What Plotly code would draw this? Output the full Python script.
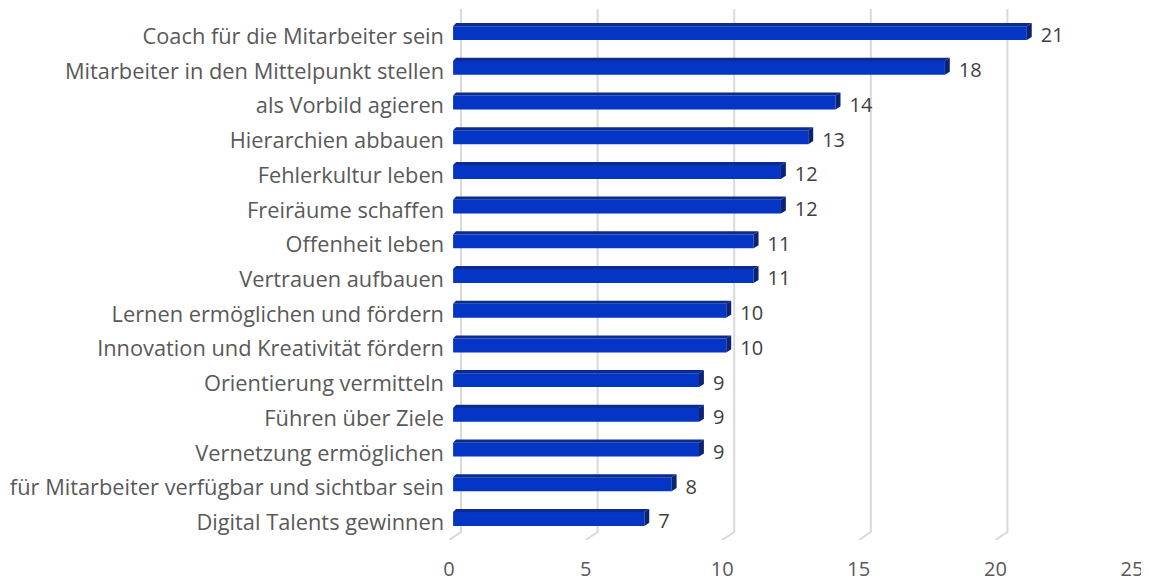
import plotly.graph_objects as go

categories = [
    "Coach für die Mitarbeiter sein",
    "Mitarbeiter in den Mittelpunkt stellen",
    "als Vorbild agieren",
    "Hierarchien abbauen",
    "Fehlerkultur leben",
    "Freiräume schaffen",
    "Offenheit leben",
    "Vertrauen aufbauen",
    "Lernen ermöglichen und fördern",
    "Innovation und Kreativität fördern",
    "Orientierung vermitteln",
    "Führen über Ziele",
    "Vernetzung ermöglichen",
    "für Mitarbeiter verfügbar und sichtbar sein",
    "Digital Talents gewinnen",
]
values = [21, 18, 14, 13, 12, 12, 11, 11, 10, 10, 9, 9, 9, 8, 7]
x_ticks = [0, 5, 10, 15, 20, 25]

# geometry (in axis units)
n = len(categories)
ypos = [n - 1 - i for i in range(n)]  # top category at highest position
label_drop = 0.14
shift = 0.15      # bars sit slightly into the depth
h_front = 0.40
h_top = 0.09
dx = 0.18
grid_dx = 0.44
y_front_bottom = -0.65
y_back_bottom = -0.42
y_top = 14.65

FRONT = "#0535C4"
TOP = "#0B2C8E"
SIDE = "#0A2373"
GRID = "#D9D9D9"
TEXT = "#595959"

fig = go.Figure()

# 3D-perspective gridlines (drawn first -> behind bars)
gx, gy = [], []
for t in x_ticks:
    gx += [t, t + grid_dx, t + grid_dx, None]
    gy += [y_front_bottom, y_back_bottom, y_top, None]
fig.add_trace(go.Scatter(x=gx, y=gy, mode="lines", line=dict(color=GRID, width=2),
                         hoverinfo="skip", cliponaxis=False, showlegend=False))

fx, fy = [], []
tx, ty = [], []
sx, sy = [], []
for v, c in zip(values, ypos):
    yb = c - (h_front + h_top) / 2
    yf = yb + h_front
    x0 = shift
    x1 = v + shift
    fx += [x0, x1, x1, x0, x0, None]
    fy += [yb, yb, yf, yf, yb, None]
    tx += [x0, x1, x1 + dx, x0 + dx * 0.6, x0, None]
    ty += [yf, yf, yf + h_top, yf + h_top, yf, None]
    sx += [x1, x1 + dx, x1 + dx, x1, x1, None]
    sy += [yb, yb + h_top, yf + h_top, yf, yb, None]

fig.add_trace(go.Scatter(x=fx, y=fy, mode="lines", fill="toself", fillcolor=FRONT,
                         line=dict(width=0, color=FRONT), hoverinfo="skip", showlegend=False,
                         cliponaxis=False))
fig.add_trace(go.Scatter(x=tx, y=ty, mode="lines", fill="toself", fillcolor=TOP,
                         line=dict(width=0, color=TOP), hoverinfo="skip", showlegend=False,
                         cliponaxis=False))
fig.add_trace(go.Scatter(x=sx, y=sy, mode="lines", fill="toself", fillcolor=SIDE,
                         line=dict(width=0, color=SIDE), hoverinfo="skip", showlegend=False,
                         cliponaxis=False))

# value labels
fig.add_trace(go.Scatter(x=[v + 0.66 for v in values], y=[c - 0.17 for c in ypos],
                         mode="text", text=[str(v) for v in values],
                         textposition="middle right",
                         textfont=dict(family="Open Sans", size=20, color="#404040"),
                         hoverinfo="skip", showlegend=False, cliponaxis=False))

# page body has an 8px margin, so the figure is offset by 8px
fig.update_layout(
    width=1141, height=575,
    margin=dict(l=441, r=17, t=1, b=43),
    paper_bgcolor="white", plot_bgcolor="white",
    font=dict(family="Open Sans", size=20, color=TEXT),
    xaxis=dict(range=[0, 25], tickvals=x_ticks, ticktext=[str(t) for t in x_ticks],
               showgrid=False, zeroline=False, showline=False, ticks="",
               ticklabelstandoff=15, tickfont=dict(size=20, color=TEXT), fixedrange=True,
               automargin=False),
    yaxis=dict(range=[y_front_bottom, y_top], tickvals=[c - label_drop for c in ypos],
               ticktext=categories,
               showgrid=False, zeroline=False, showline=False, ticks="",
               ticklabelstandoff=4, tickfont=dict(size=21.8, color=TEXT), fixedrange=True,
               automargin=False),
)

fig.write_html("out.html")
